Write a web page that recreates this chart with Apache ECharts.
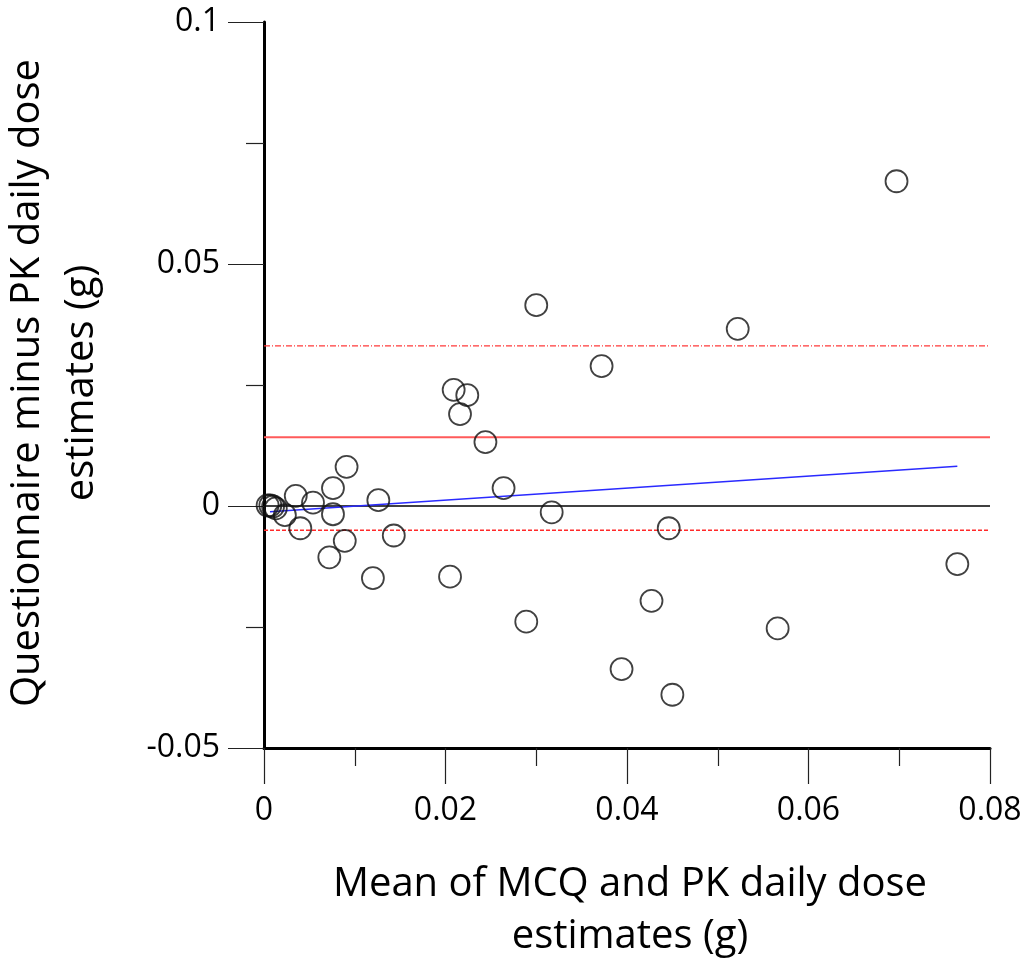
<!DOCTYPE html>
<html>
<head>
<meta charset="utf-8">
<script src="https://cdn.jsdelivr.net/npm/echarts@6/dist/echarts.min.js"></script>
<style>
html,body{margin:0;padding:0;background:#fff;}
#chart{width:1031px;height:966px;}
</style>
</head>
<body>
<div id="chart"></div>
<script>
// Bland-Altman data: [mean of MCQ and PK, questionnaire minus PK]
const meanValues = [0.0697, 0.0300, 0.0522, 0.0372, 0.0209, 0.0224, 0.0216, 0.0244, 0.0091, 0.0264,
  0.0076, 0.0035, 0.0126, 0.0054, 0.0317, 0.0076, 0.0023, 0.0040, 0.0446, 0.0143,
  0.0089, 0.0072, 0.0120, 0.0205, 0.0764, 0.0427, 0.0289, 0.0566, 0.0394, 0.0450,
  0.0004, 0.0007, 0.0010, 0.0013];
const diffValues = [0.0671, 0.0415, 0.0366, 0.0289, 0.0240, 0.0229, 0.0190, 0.0132, 0.0081, 0.0037,
  0.0037, 0.0021, 0.0012, 0.0007, -0.0013, -0.0017, -0.0019, -0.0046, -0.0046, -0.0061,
  -0.0072, -0.0106, -0.0149, -0.0146, -0.0120, -0.0196, -0.0239, -0.0253, -0.0337, -0.0390,
  0.0001, 0.0001, -0.0001, -0.0005];
const xRange = [0, 0.08];
const meanDiff = 0.0142;
const upperLoA = 0.0331;
const lowerLoA = -0.0050;
const regressionX = [0.00066, 0.0764];
const regressionY = [-0.0012, 0.0082];
const xTicks = {min: 0, max: 0.08, interval: 0.02};
const yTicks = {min: -0.05, max: 0.1, interval: 0.05};

const points = meanValues.map((m, i) => [m, diffValues[i]]);
const hline = v => xRange.map(x => [x, v]);
const FONT = 'Open Sans';

const chart = echarts.init(document.getElementById('chart'));
chart.setOption({
  animation: false,
  backgroundColor: '#fff',
  grid: {left: 264, right: 41, top: 22, bottom: 218},
  xAxis: {
    type: 'value', min: xTicks.min, max: xTicks.max, interval: xTicks.interval,
    axisLine: {show: true, onZero: false, lineStyle: {color: '#000', width: 3}},
    axisTick: {show: true, length: 36, lineStyle: {color: '#222', width: 1.2}},
    minorTick: {show: true, splitNumber: 2, length: 18, lineStyle: {color: '#222', width: 1.2}},
    splitLine: {show: false},
    axisLabel: {margin: 47, fontFamily: FONT, fontSize: 32, color: '#000'}
  },
  yAxis: {
    type: 'value', min: yTicks.min, max: yTicks.max, interval: yTicks.interval,
    axisLine: {show: true, onZero: false, lineStyle: {color: '#000', width: 3}},
    axisTick: {show: true, length: 36, lineStyle: {color: '#222', width: 1.2}},
    minorTick: {show: true, splitNumber: 2, length: 18, lineStyle: {color: '#222', width: 1.2}},
    splitLine: {show: false},
    axisLabel: {margin: 44, fontFamily: FONT, fontSize: 32, color: '#000'}
  },
  graphic: [
    {type: 'text', x: 630, y: 911, style: {text: 'Mean of MCQ and PK daily dose\nestimates (g)', font: '40px "Open Sans"', fill: '#000', textAlign: 'center', textVerticalAlign: 'middle', lineHeight: 52}},
    {type: 'text', x: 55, y: 383, rotation: Math.PI / 2, style: {text: 'Questionnaire minus PK daily dose\nestimates (g)', font: '40px "Open Sans"', fill: '#000', textAlign: 'center', textVerticalAlign: 'middle', lineHeight: 54}}
  ],
  series: [
    {type: 'line', data: hline(0), symbol: 'none', lineStyle: {color: '#000', width: 1.3}, z: 2},
    {type: 'line', data: hline(meanDiff), symbol: 'none', lineStyle: {color: '#ff5a5a', width: 2}, z: 2},
    {type: 'line', data: hline(upperLoA), symbol: 'none', lineStyle: {color: '#ff3a3a', width: 1.3, type: [6, 2, 1, 2]}, z: 2},
    {type: 'line', data: hline(lowerLoA), symbol: 'none', lineStyle: {color: '#ff2a2a', width: 1.5, type: [4, 2]}, z: 2},
    {type: 'line', data: regressionX.map((x, i) => [x, regressionY[i]]), symbol: 'none', lineStyle: {color: '#2a2aff', width: 1.6}, z: 3},
    {type: 'scatter', data: points, symbol: 'circle', symbolSize: 22,
      itemStyle: {color: 'rgba(0,0,0,0)', borderColor: '#111', borderWidth: 1.8}, z: 4}
  ]
});
</script>
</body>
</html>
